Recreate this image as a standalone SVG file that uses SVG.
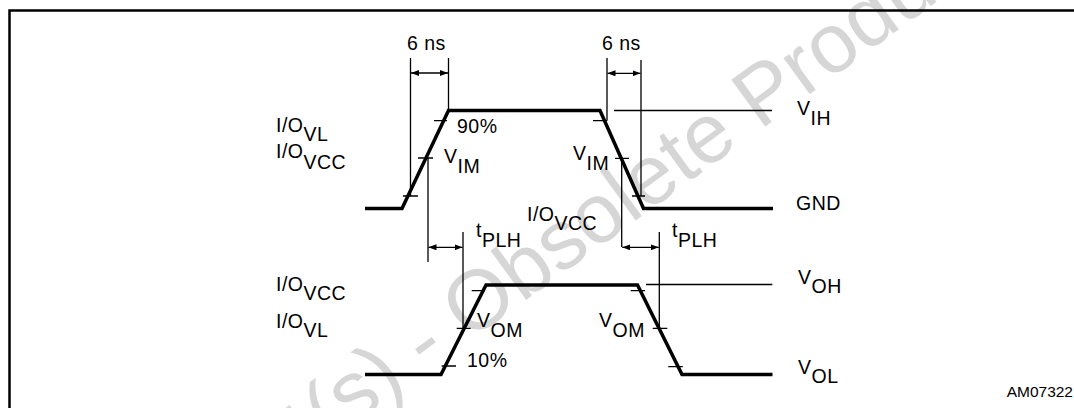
<svg xmlns="http://www.w3.org/2000/svg" width="1074" height="408" viewBox="0 0 1074 408">
<style>
.t{font-family:"Liberation Sans",Arial,Helvetica,sans-serif;font-size:19.5px;letter-spacing:0.5px;fill:#000}
.s{font-family:"Liberation Sans",Arial,Helvetica,sans-serif;font-size:15.5px;fill:#000}
.wm{font-family:"Liberation Sans",Arial,Helvetica,sans-serif;font-size:84px;fill:#d6d6d6}
.wave{fill:none;stroke:#000;stroke-width:3.5;stroke-linejoin:miter}
.thin{fill:none;stroke:#000;stroke-width:1.3}
.arr{fill:none;stroke:#000;stroke-width:1.3;marker-start:url(#ah);marker-end:url(#ah)}
.frame{fill:none;stroke:#000;stroke-width:2.5}
</style>
<defs>
<marker id="ah" markerUnits="userSpaceOnUse" markerWidth="8" markerHeight="6" refX="8" refY="3" orient="auto-start-reverse">
<path d="M0,0 L8,3 L0,6 z" fill="#000"/>
</marker>
</defs>
<rect width="1074" height="408" fill="#fff"/>
<g id="watermark">
<text class="wm" transform="translate(329.2,443.2) rotate(-36)" x="-649">Obsolete Product(s) - Obsolete Product(s)</text>
</g>
<g id="frame">
<path class="frame" d="M9.5,420 V10.5 H1080"/>
</g>
<g id="input-waveform">
<polyline class="wave" points="365,208.5 402,208.5 448.5,110.5 600,110.5 643.5,208.5 773,208.5"/>
<path class="thin" d="M434,120.7 H447 M418,158 H433 M403,196 H418 M593,120.7 H607 M615,158.3 H629 M632,196 H645"/>
<path class="thin" d="M614,110.5 H772"/>
</g>
<g id="output-waveform">
<polyline class="wave" points="365,374.5 441,374.5 486,285 637.5,285 682,374.5 772.5,374.5"/>
<path class="thin" d="M471.7,290.7 H485 M456.7,328.3 H470.7 M441.7,366 H456 M630.7,290.7 H645 M652.7,328.3 H667.3 M668.3,366.7 H682.7"/>
<path class="thin" d="M646,284.5 H772.3"/>
</g>
<g id="connectors">
<path class="thin" d="M410.5,58 V196 M448.5,58 V110.5 M428,158 V262 M607,58 V120.7 M641,60 V196 M621.7,158.3 V247 M463,232 V328.3 M659.3,232 V328.3"/>
<line class="arr" x1="411" y1="73" x2="448" y2="73"/>
<line class="arr" x1="607.5" y1="73.3" x2="640.5" y2="73.3"/>
<line class="arr" x1="428.5" y1="247.3" x2="462.5" y2="247.3"/>
<line class="arr" x1="622.2" y1="247.3" x2="658.8" y2="247.3"/>
</g>
<g id="labels">
<text class="t" x="407" y="50">6 ns</text>
<text class="t" x="602" y="50">6 ns</text>
<text class="t" x="457" y="133">90%</text>
<text class="t" x="444" y="163">V<tspan dy="9.5">IM</tspan></text>
<text class="t" x="573" y="160">V<tspan dy="10">IM</tspan></text>
<text class="t" x="797" y="115">V<tspan dy="10">IH</tspan></text>
<text class="t" x="796" y="210">GND</text>
<text class="t" x="276" y="131.5">I/O<tspan dy="9.5">VL</tspan></text>
<text class="t" x="276" y="158">I/O<tspan dy="11">VCC</tspan></text>
<text class="t" x="527" y="220.5">I/O<tspan dy="9.5">VCC</tspan></text>
<text class="t" x="476" y="237">t<tspan dy="10">PLH</tspan></text>
<text class="t" x="672" y="237">t<tspan dy="10">PLH</tspan></text>
<text class="t" x="276" y="290.5">I/O<tspan dy="9.5">VCC</tspan></text>
<text class="t" x="276" y="327.5">I/O<tspan dy="9.5">VL</tspan></text>
<text class="t" x="477" y="327">V<tspan dy="10">OM</tspan></text>
<text class="t" x="599" y="327">V<tspan dy="10">OM</tspan></text>
<text class="t" x="467" y="367">10%</text>
<text class="t" x="798" y="283.5">V<tspan dy="9.5">OH</tspan></text>
<text class="t" x="798" y="373.5">V<tspan dy="9.5">OL</tspan></text>
<text class="s" x="1073" y="397" text-anchor="end">AM07322</text>
</g>
</svg>
